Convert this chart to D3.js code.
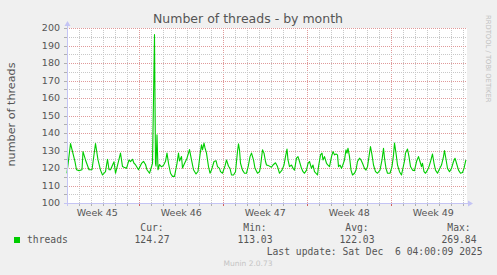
<!DOCTYPE html>
<html><head><meta charset="utf-8">
<script src="https://cdn.jsdelivr.net/npm/d3@7"></script>
<style>
html,body{margin:0;padding:0;background:#f0f0f0;}
svg{display:block;}
text{white-space:pre;}
</style></head><body>
<svg id="c" width="497" height="275"></svg>
<script>
const title = "Number of threads - by month";
const yAxisLabel = "number of threads";
const seriesName = "threads";
// hours since the start of the graph window
const hours = [
0,7,16,19,24,30,32,37,44,50,
57,62,67,71,77,81,84,87,94,97,
102,107,111,114,119,124,127,131,134,137,
143,149,153,157,160,165,169,171,175,177,
178,180,182,185,189,193,197,200,203,207,
211,215,220,223,225,229,231,235,240,245,
249,253,258,262,266,269,271,274,276,279,
283,286,289,294,298,301,305,307,311,316,
319,323,326,329,333,337,341,343,345,347,
351,355,359,363,366,369,373,376,381,385,
387,391,394,397,399,402,409,412,417,421,
425,430,434,437,440,442,445,449,452,455,
459,462,465,469,472,475,479,482,485,489,
492,495,501,503,507,510,512,515,519,522,
525,529,532,535,538,541,543,546,549,551,
555,558,560,562,565,568,571,575,578,581,
585,588,591,595,598,601,605,607,610,613,
617,621,626,630,633,635,638,641,646,650,
653,655,658,661,665,669,671,675,677,681,
684,687,691,695,699,703,706,709,711,714,
717,721,724,727,731,734,737,741,744,749,
753,755,758,761,765,769,773,776,779,783,
787,791,794,797,798];
const threads = [
117,134,123.6,119,118.5,119,129.4,124.6,119,119,
134,124.6,118.8,116,117.9,125,119,119,123.6,117,
122.7,128.5,120.8,120.4,119.8,124.6,123.6,125,122.7,121.9,
119,122.6,123.8,122,119,117,120.7,122.6,196.2,122.6,
121,139,119,122,120.7,121.5,123.8,128.5,122.6,117,
115.2,115.2,122.6,128.5,124,126.6,120,122.6,125.6,130.5,
124.7,119,116.6,118,127.5,133.3,130.4,134.2,131.5,128.5,
120.8,117,118.8,123.7,124.2,120.8,119.8,117.9,117,121.2,
124.6,121,119.8,116,116,117.9,129.4,133.8,130.4,122.7,
118.8,117,117,121.7,126.5,128.5,124.6,119.8,117,117.9,
120.8,130.4,128.5,123.7,121.7,121.5,120.4,121.7,123,120.8,
117,118.8,121.7,126.5,130.8,124.6,120.8,121.7,119.8,118.8,
125.6,126.5,123.7,119.8,117.9,117,118.8,122.7,123.7,119.8,
121.7,117.9,116,120.8,127.5,128.5,124.6,126.5,122.7,121.7,
120.8,126.5,129.4,127.5,128,127.5,120.8,121.7,119.8,121.2,
124.6,130.4,128.5,131.3,126.5,118.8,116,117,118.8,123.7,
125.6,124.6,122.7,119.8,118.8,120.8,128.5,132.3,127.5,121.7,
117.9,117,118.8,124.6,131.3,125.6,119.8,117,117,120.8,
127.5,134.2,128.5,121.7,117.9,116,118.8,124,128.5,130.8,
126.5,120.8,118.8,118.5,123.7,126.5,123.7,120.8,122.7,117.9,
117,118.8,120.8,123.7,128,122.7,118.8,117,118.8,121.7,
126.5,130,125,119.8,117.9,119.8,123.7,125.6,122.7,118.8,
117,117.4,119.8,123.7,124.6];
const yTicks = [100,110,120,130,140,150,160,170,180,190,200];
const weekLabels = ["Week 45","Week 46","Week 47","Week 48","Week 49"];
const legendHeaders = ["Cur:","Min:","Avg:","Max:"];
const legendValues = ["124.27","113.03","122.03","269.84"];
const lastUpdate = "Last update: Sat Dec  6 04:00:09 2025";
const footer = "Munin 2.0.73";
const watermark = "RRDTOOL / TOBI OETIKER";
const startMs = Date.UTC(2025, 10, 3, 23, 24);
const spanHours = 800;

const H = 3600e3;
const start = new Date(startMs), end = new Date(startMs + spanHours * H);
const svg = d3.select("#c");
const x = d3.scaleUtc().domain([start, end]).range([67, 467]);
const y = d3.scaleLinear().domain([100, 200]).range([203, 28]);
const px = v => Math.round(v) + 0.5;

const sans = "'DejaVu Sans', sans-serif";
const mono = "'DejaVu Sans Mono', monospace";

// plot background
svg.append("rect").attr("x", x(start)).attr("y", y(200))
  .attr("width", x(end) - x(start)).attr("height", y(100) - y(200)).attr("fill", "#ffffff");

const grid = svg.append("g").attr("shape-rendering", "crispEdges");
const minorCol = "#c8c8c8", majorCol = "#e09a9a";
// vertical grid
const days = d3.utcDay.range(start, end);
days.forEach(d => {
  const isMonday = d.getUTCDay() === 1;
  grid.append("line").attr("x1", px(x(d))).attr("x2", px(x(d)))
    .attr("y1", y(200)).attr("y2", y(100))
    .attr("stroke", isMonday ? majorCol : minorCol).attr("stroke-dasharray", "1,1");
  grid.append("line").attr("x1", px(x(d))).attr("x2", px(x(d)))
    .attr("y1", y(100)).attr("y2", y(100) + 3)
    .attr("stroke", isMonday ? "#d06060" : "#b0b0b0");
});
// horizontal grid
const hTicks = y.ticks(20);
hTicks.forEach(v => {
  const major = v % 10 === 0;
  if (v > 100) {
    grid.append("line").attr("x1", x(start)).attr("x2", x(end))
      .attr("y1", px(y(v))).attr("y2", px(y(v)))
      .attr("stroke", major ? majorCol : minorCol).attr("stroke-dasharray", "1,1");
  }
  grid.append("line").attr("x1", x(start) - 3).attr("x2", x(start))
    .attr("y1", px(y(v))).attr("y2", px(y(v)))
    .attr("stroke", "#b0b0b0");
});

// y tick labels
svg.append("g").selectAll("text").data(yTicks).join("text")
  .attr("x", 60).attr("y", d => y(d)).attr("dy", "0.36em")
  .attr("text-anchor", "end").attr("font-family", sans).attr("font-size", 9.5)
  .attr("fill", "#555").text(d => d);

// week labels centred in each week
const mondays = d3.utcMonday.range(d3.utcMonday.floor(start), end);
svg.append("g").selectAll("text").data(mondays).join("text")
  .attr("x", d => x(new Date(+d + 3.5 * 24 * H))).attr("y", 216)
  .attr("text-anchor", "middle").attr("font-family", sans).attr("font-size", 9.5)
  .attr("fill", "#555").text((d, i) => weekLabels[i]);

// series line
const line = d3.line().x((d, i) => x(new Date(startMs + hours[i] * H))).y(d => y(d));
svg.append("path").datum(threads).attr("d", line)
  .attr("fill", "none").attr("stroke", "#00cc00").attr("stroke-width", 1.1)
  .attr("stroke-linejoin", "round");

// axes with arrows
const axCol = "#c4c4f4";
const ax = svg.append("g");
ax.append("line").attr("x1", x(start) - 3).attr("x2", 470).attr("y1", px(y(100))).attr("y2", px(y(100)))
  .attr("stroke", axCol).attr("shape-rendering", "crispEdges");
ax.append("path").attr("d", `M468,${px(y(100)) - 3}L473,${px(y(100))}L468,${px(y(100)) + 3}Z`).attr("fill", axCol);
ax.append("line").attr("x1", px(x(start))).attr("x2", px(x(start))).attr("y1", y(100) + 3).attr("y2", 24)
  .attr("stroke", axCol).attr("shape-rendering", "crispEdges");
ax.append("path").attr("d", `M${px(x(start)) - 3},26L${px(x(start))},21L${px(x(start)) + 3},26Z`).attr("fill", axCol);

// title
svg.append("text").attr("x", 248).attr("y", 22.5).attr("text-anchor", "middle")
  .attr("font-family", sans).attr("font-size", 12.5).attr("fill", "#555").text(title);
// y axis title
svg.append("text").attr("transform", "translate(15,114.5) rotate(-90)").attr("text-anchor", "middle")
  .attr("font-family", sans).attr("font-size", 11.2).attr("fill", "#555").text(yAxisLabel);
// watermark
svg.append("text").attr("transform", "translate(485.5,15) rotate(90)")
  .attr("font-family", sans).attr("font-size", 6.8).attr("fill", "#c0c0c0").text(watermark);

// legend
svg.append("rect").attr("x", 14).attr("y", 237).attr("width", 6).attr("height", 6).attr("fill", "#00cc00");
svg.append("text").attr("x", 27).attr("y", 243).attr("font-family", mono).attr("font-size", 9.7)
  .attr("fill", "#555").text(seriesName);
const cols = [152, 255, 357, 459];
svg.append("g").selectAll("text").data(legendHeaders).join("text")
  .attr("x", (d, i) => cols[i]).attr("y", 231).attr("text-anchor", "middle")
  .attr("font-family", mono).attr("font-size", 9.7).attr("fill", "#555").text(d => d);
svg.append("g").selectAll("text").data(legendValues).join("text")
  .attr("x", (d, i) => cols[i]).attr("y", 243).attr("text-anchor", "middle")
  .attr("font-family", mono).attr("font-size", 9.7).attr("fill", "#555").text(d => d);
svg.append("text").attr("x", 482.5).attr("y", 255).attr("text-anchor", "end")
  .attr("font-family", mono).attr("font-size", 9.7).attr("fill", "#555").text(lastUpdate);
svg.append("text").attr("x", 248).attr("y", 266).attr("text-anchor", "middle")
  .attr("font-family", sans).attr("font-size", 7.5).attr("fill", "#c4c4c4").text(footer);
</script>
</body></html>
